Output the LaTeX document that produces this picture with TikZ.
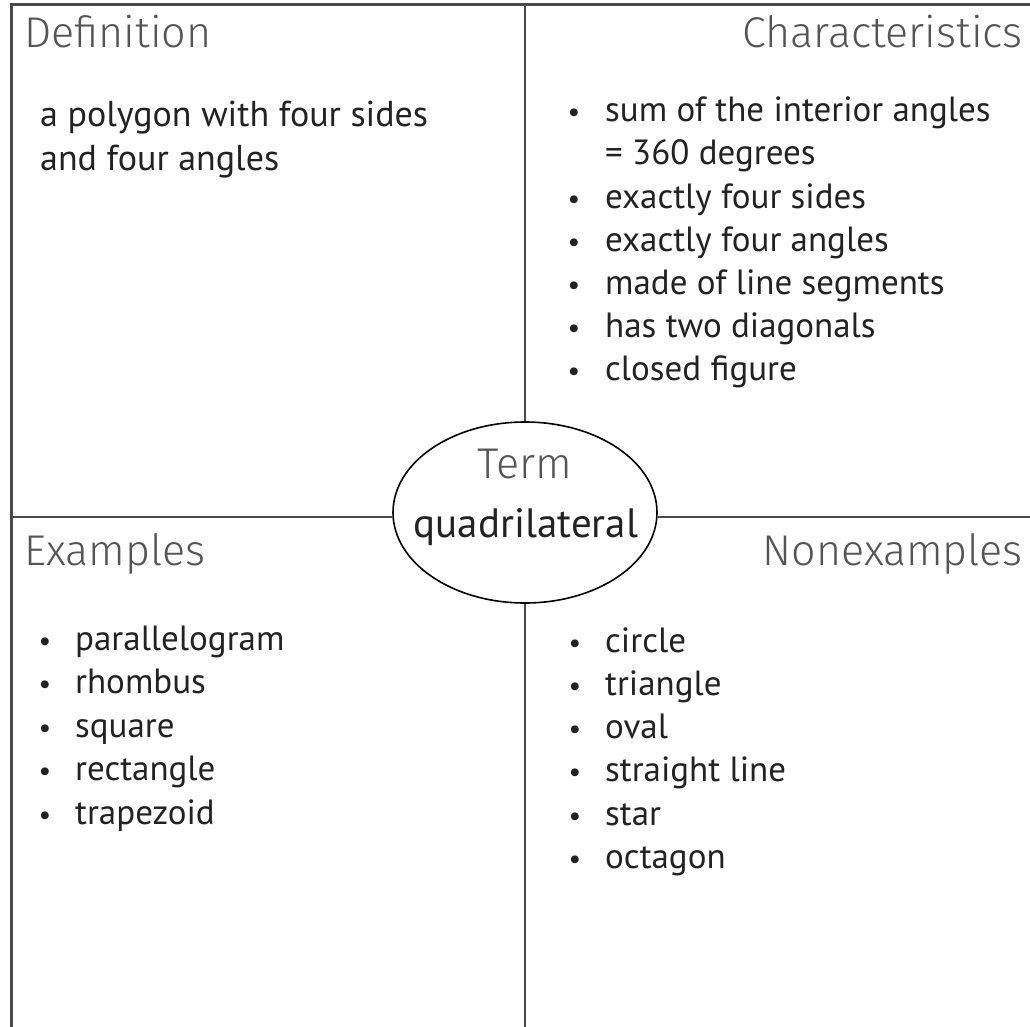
\documentclass[tikz,border=0pt]{standalone}
\usepackage{fontspec}
\setmainfont{PT Sans}
\newfontfamily\lightfont{Fira Sans}[UprightFont=* Light]
\usetikzlibrary{shapes.geometric}
\definecolor{frame}{HTML}{4A4A4A}
\definecolor{hdr}{HTML}{555555}
\definecolor{body}{HTML}{222222}
\tikzset{
  hdr/.style={inner sep=0pt, font=\lightfont\fontsize{43}{46}\selectfont, text=hdr},
  itm/.style={inner sep=0pt, anchor=base west, font=\fontsize{35}{43}\selectfont, text=body},
  bul/.style={inner sep=0pt, anchor=base, font=\fontsize{28}{43}\selectfont, text=body},
  divider/.style={frame, line width=2pt},
}
\begin{document}
\begin{tikzpicture}[x=1pt,y=-1pt]
\useasboundingbox (0,0) rectangle (1030,1027);
\fill[white] (0,0) rectangle (1030,1027);
% frame (cut at right and bottom)
\draw[frame, line width=3pt] (11,1040) -- (11,5) -- (1040,5);
% centre term
\node[ellipse, draw=black, line width=1.6pt, fill=white, minimum width=264pt, minimum height=181pt, inner sep=0pt] (term) at (525,512.5) {};
% dividers
\coordinate (vtop) at (525,5);
\coordinate (vbot) at (525,1040);
\coordinate (hl) at (11,517);
\coordinate (hr) at (1040,517);
\draw[divider] (vtop) -- (term.north);
\draw[divider] (term.south) -- (vbot);
\draw[divider] (hl) -- (term.west |- hl);
\draw[divider] (term.east |- hr) -- (hr);
\node[hdr, anchor=base] (termlbl) at (525,478) {Term};
\node[inner sep=0pt, anchor=base, font=\fontsize{41}{43}\selectfont, text=body] (termname) at (526,537) {quadrilateral};
% headers
\node[hdr, anchor=base west] (hdef) at (24,48) {Definition};
\node[hdr, anchor=base east] (hchar) at (1023,48) {Characteristics};
\node[hdr, anchor=base west] (hex) at (24,565) {Examples};
\node[hdr, anchor=base east] (hnon) at (1023,565) {Nonexamples};
% definition
\node[itm, font=\fontsize{36}{43}\selectfont] (d1) at (40,127) {a polygon with four sides};
\node[itm, font=\fontsize{36}{43}\selectfont] (d2) at (40,171) {and four angles};
% characteristics
\foreach \t [count=\i] in {sum of the interior angles,= 360 degrees,exactly four sides,exactly four angles,made of line segments,has two diagonals,closed figure}{
  \node[itm] (c\i) at (605,{122+43*(\i-1)}) {\t};
}
\foreach \i in {1,3,4,5,6,7}{
  \node[bul] (cb\i) at (574,{122+43*(\i-1)}) {•};
}
% examples
\foreach \t [count=\i] in {parallelogram,rhombus,square,rectangle,trapezoid}{
  \node[itm] (e\i) at (75,{650+43.5*(\i-1)}) {\t};
  \node[bul] (eb\i) at (45,{650+43.5*(\i-1)}) {•};
}
% nonexamples
\foreach \t [count=\i] in {circle,triangle,oval,straight line,star,octagon}{
  \node[itm] (n\i) at (605,{652+43.3*(\i-1)}) {\t};
  \node[bul] (nb\i) at (575,{652+43.3*(\i-1)}) {•};
}
\end{tikzpicture}
\end{document}
